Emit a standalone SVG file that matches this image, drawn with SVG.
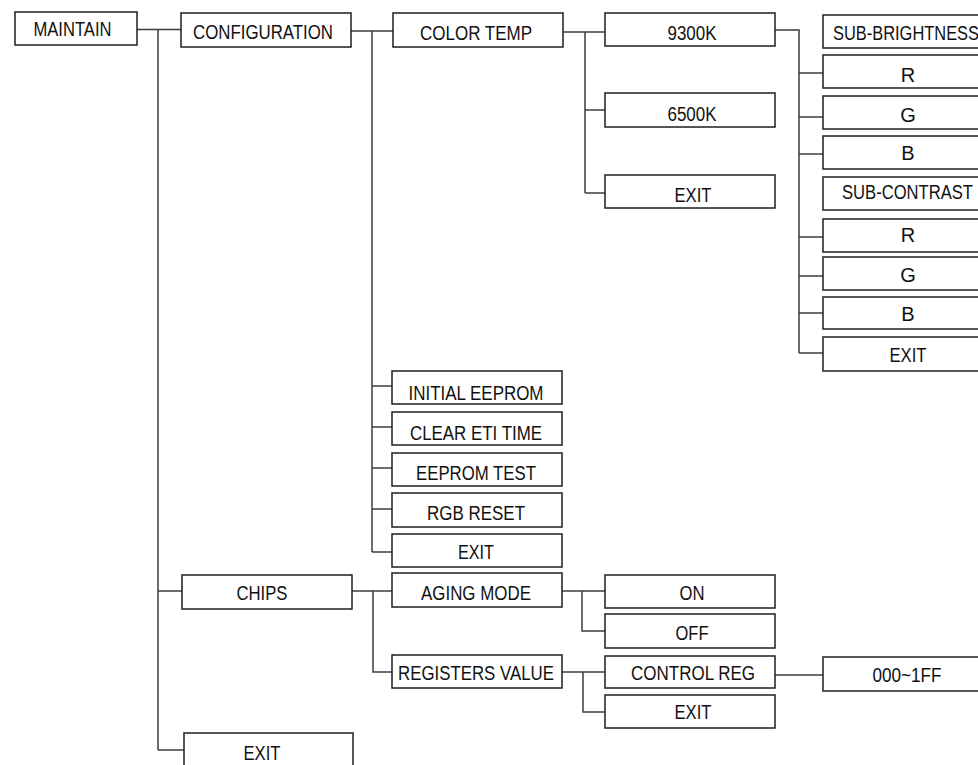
<svg xmlns="http://www.w3.org/2000/svg" width="978" height="765" viewBox="0 0 978 765">
  <style>
    .box { fill: #ffffff; stroke: #1e1e1e; stroke-width: 1.5; }
    .lbl { font-family: "Liberation Sans Narrow", "Liberation Sans", Arial, sans-serif; font-size: 20px; fill: #111111; text-anchor: middle; }
    .wire { fill: none; stroke: #3c3c3c; stroke-width: 1.5; }
  </style>
  <rect x="0" y="0" width="978" height="765" fill="#ffffff"/>

  <!-- connectors -->
  <g id="connectors" class="wire">
    <!-- MAINTAIN -->
    <path d="M137,29.5 H181 M158,29.5 V750 M158,591 H182 M158,750 H184"/>
    <!-- CONFIGURATION -->
    <path d="M351,31 H393 M372,31 V552 M372,386 H392 M372,427 H392 M372,468 H392 M372,509 H392 M372,552 H392"/>
    <!-- COLOR TEMP -->
    <path d="M563,32 H605 M585,32 V193 M585,110 H605 M585,193 H605"/>
    <!-- 9300K -->
    <path d="M775,30 H799 V353 M799,73 H823 M799,117 H823 M799,154 H823 M799,237 H823 M799,276 H823 M799,313 H823 M799,353 H823"/>
    <!-- CHIPS -->
    <path d="M352,591 H392 M373,591 V672 H392"/>
    <!-- AGING MODE -->
    <path d="M562,591 H605 M582,591 V631 H605"/>
    <!-- REGISTERS VALUE -->
    <path d="M562,672 H605 M583,672 V712 H605"/>
    <!-- CONTROL REG -->
    <path d="M775,675 H823"/>
  </g>

  <!-- level 0 -->
  <g id="maintain"><rect class="box" x="15" y="12" width="122" height="33"/><text class="lbl" x="72.5" y="36" textLength="78" lengthAdjust="spacingAndGlyphs">MAINTAIN</text></g>

  <!-- level 1 -->
  <g id="configuration"><rect class="box" x="181" y="13" width="170" height="34"/><text class="lbl" x="263" y="39" textLength="140" lengthAdjust="spacingAndGlyphs">CONFIGURATION</text></g>
  <g id="chips"><rect class="box" x="182" y="575" width="170" height="34"/><text class="lbl" x="262" y="600" textLength="51" lengthAdjust="spacingAndGlyphs">CHIPS</text></g>
  <g id="maintain-exit"><rect class="box" x="184" y="733" width="169" height="40"/><text class="lbl" x="262" y="760" textLength="37" lengthAdjust="spacingAndGlyphs">EXIT</text></g>

  <!-- configuration items -->
  <g id="color-temp"><rect class="box" x="393" y="13" width="170" height="34"/><text class="lbl" x="476" y="40" textLength="112" lengthAdjust="spacingAndGlyphs">COLOR TEMP</text></g>
  <g id="initial-eeprom"><rect class="box" x="392" y="371" width="170" height="33"/><text class="lbl" x="476" y="400" textLength="135" lengthAdjust="spacingAndGlyphs">INITIAL EEPROM</text></g>
  <g id="clear-eti-time"><rect class="box" x="392" y="412" width="170" height="33"/><text class="lbl" x="476" y="440" textLength="132" lengthAdjust="spacingAndGlyphs">CLEAR ETI TIME</text></g>
  <g id="eeprom-test"><rect class="box" x="392" y="453" width="170" height="33"/><text class="lbl" x="476" y="480" textLength="120" lengthAdjust="spacingAndGlyphs">EEPROM TEST</text></g>
  <g id="rgb-reset"><rect class="box" x="392" y="493" width="170" height="34"/><text class="lbl" x="476" y="520" textLength="98" lengthAdjust="spacingAndGlyphs">RGB RESET</text></g>
  <g id="configuration-exit"><rect class="box" x="392" y="534" width="170" height="33"/><text class="lbl" x="476" y="559" textLength="36" lengthAdjust="spacingAndGlyphs">EXIT</text></g>

  <!-- chips items -->
  <g id="aging-mode"><rect class="box" x="392" y="573" width="170" height="34"/><text class="lbl" x="476" y="600" textLength="110" lengthAdjust="spacingAndGlyphs">AGING MODE</text></g>
  <g id="registers-value"><rect class="box" x="392" y="655" width="170" height="33"/><text class="lbl" x="476" y="680" textLength="156" lengthAdjust="spacingAndGlyphs">REGISTERS VALUE</text></g>

  <!-- color temp items -->
  <g id="k9300"><rect class="box" x="605" y="13" width="170" height="33"/><text class="lbl" x="692" y="40" textLength="49" lengthAdjust="spacingAndGlyphs">9300K</text></g>
  <g id="k6500"><rect class="box" x="605" y="93" width="170" height="34"/><text class="lbl" x="692" y="121" textLength="49" lengthAdjust="spacingAndGlyphs">6500K</text></g>
  <g id="color-temp-exit"><rect class="box" x="605" y="175" width="170" height="33"/><text class="lbl" x="693" y="202" textLength="37" lengthAdjust="spacingAndGlyphs">EXIT</text></g>

  <!-- aging mode / registers items -->
  <g id="aging-on"><rect class="box" x="605" y="575" width="170" height="33"/><text class="lbl" x="692" y="600" textLength="25" lengthAdjust="spacingAndGlyphs">ON</text></g>
  <g id="aging-off"><rect class="box" x="605" y="614" width="170" height="34"/><text class="lbl" x="692" y="640" textLength="33" lengthAdjust="spacingAndGlyphs">OFF</text></g>
  <g id="control-reg"><rect class="box" x="605" y="656" width="170" height="32"/><text class="lbl" x="693" y="680" textLength="124" lengthAdjust="spacingAndGlyphs">CONTROL REG</text></g>
  <g id="registers-exit"><rect class="box" x="605" y="695" width="170" height="33"/><text class="lbl" x="693" y="719" textLength="37" lengthAdjust="spacingAndGlyphs">EXIT</text></g>
  <g id="control-reg-range"><rect class="box" x="823" y="657" width="170" height="34"/><text class="lbl" x="907" y="682" textLength="69" lengthAdjust="spacingAndGlyphs">000~1FF</text></g>

  <!-- 9300K adjustment items -->
  <g id="sub-brightness"><rect class="box" x="823" y="15" width="170" height="33"/><text class="lbl" x="906" y="40" textLength="146" lengthAdjust="spacingAndGlyphs">SUB-BRIGHTNESS</text></g>
  <g id="brightness-r"><rect class="box" x="823" y="55" width="170" height="33"/><text class="lbl" x="908" y="82">R</text></g>
  <g id="brightness-g"><rect class="box" x="823" y="96" width="170" height="33"/><text class="lbl" x="908" y="122">G</text></g>
  <g id="brightness-b"><rect class="box" x="823" y="136" width="170" height="33"/><text class="lbl" x="908" y="160">B</text></g>
  <g id="sub-contrast"><rect class="box" x="823" y="177" width="170" height="33"/><text class="lbl" x="907.5" y="199" textLength="131" lengthAdjust="spacingAndGlyphs">SUB-CONTRAST</text></g>
  <g id="contrast-r"><rect class="box" x="823" y="219" width="170" height="33"/><text class="lbl" x="908" y="242">R</text></g>
  <g id="contrast-g"><rect class="box" x="823" y="257" width="170" height="33"/><text class="lbl" x="908" y="282">G</text></g>
  <g id="contrast-b"><rect class="box" x="823" y="297" width="170" height="32"/><text class="lbl" x="908" y="321">B</text></g>
  <g id="k9300-exit"><rect class="box" x="823" y="337" width="170" height="34"/><text class="lbl" x="908" y="362" textLength="37" lengthAdjust="spacingAndGlyphs">EXIT</text></g>
</svg>
